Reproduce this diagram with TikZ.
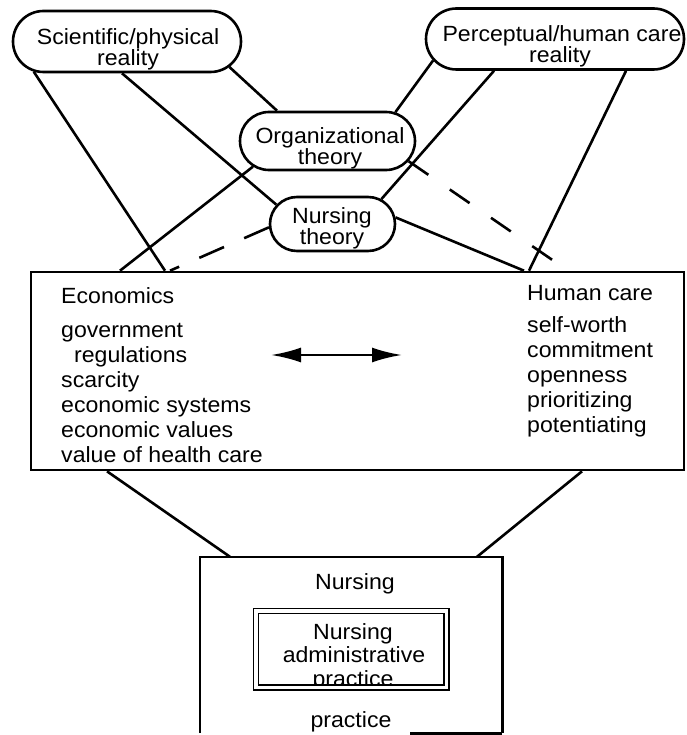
\documentclass[tikz,border=0pt]{standalone}
\usepackage{fontspec}
\setmainfont{Liberation Sans}[FakeStretch=1.05]
\usetikzlibrary{shapes.misc,arrows.meta}
\begin{document}
\begin{tikzpicture}[x=1pt,y=-1pt,
  every node/.style={font=\fontsize{22}{19}\selectfont},
  pill/.style={draw, rounded rectangle, line width=2.6pt, inner sep=0pt},
  boxed/.style={draw, rectangle, line width=2.6pt, inner sep=0pt},
  ln/.style={line width=2.6pt},
  dshA/.style={line width=2.6pt, dash pattern=on 24pt off 26pt},
  dshB/.style={line width=2.6pt, dash pattern=on 27pt off 22pt},
  txt/.style={anchor=base west, inner sep=0pt},
  ctxt/.style={anchor=base, inner sep=0pt}]
\useasboundingbox (0,0) rectangle (686,735);

% rounded boxes
\node[pill, minimum width=228pt, minimum height=61pt] (sci) at (127,41.5) {};
\node[pill, minimum width=258pt, minimum height=61pt] (per) at (555,39) {};
\node[pill, minimum width=175pt, minimum height=58pt] (org) at (327.5,141) {};
\node[pill, minimum width=125pt, minimum height=54pt] (nt) at (332.5,224) {};

\node[ctxt] (scia) at (128,45) {Scientific/physical};
\node[ctxt] (scib) at (128,66) {reality};
\node[ctxt] (pera) at (562,42) {Perceptual/human care};
\node[ctxt] (perb) at (560,63) {reality};
\node[ctxt] (orga) at (330,143.5) {Organizational};
\node[ctxt] (orgb) at (330,164.5) {theory};
\node[ctxt] (nta) at (332,223.5) {Nursing};
\node[ctxt] (ntb) at (332,244.5) {theory};

% economics / human care box
\node[boxed, minimum width=653pt, minimum height=198pt] (econ) at (357.5,371) {};
\node[txt] (e0) at (61,303) {Economics};
\node[txt] (e1) at (61,337) {government};
\node[txt] (e2) at (74,362) {regulations};
\node[txt] (e3) at (61,387) {scarcity};
\node[txt] (e4) at (61,412) {economic systems};
\node[txt] (e5) at (61,437) {economic values};
\node[txt] (e6) at (61,462) {value of health care};
\node[txt] (h0) at (527,300) {Human care};
\node[txt] (h1) at (527,332) {self-worth};
\node[txt] (h2) at (527,357) {commitment};
\node[txt] (h3) at (527,382) {openness};
\node[txt] (h4) at (527,407) {prioritizing};
\node[txt] (h5) at (527,432) {potentiating};
\coordinate (arrL) at (271,355);
\coordinate (arrR) at (402,355);
\draw[ln, {Latex[length=30pt,width=15pt]}-{Latex[length=30pt,width=15pt]}] (arrL) -- (arrR);

% nursing box
\node[minimum width=302pt, minimum height=176pt, inner sep=0pt] (nurs) at (351,645) {};
\draw[ln] (nurs.south west) -- (nurs.north west) -- (nurs.north east) -- (nurs.south east);
\draw[ln] ({410,0} |- nurs.south) -- (nurs.south east);
\node[ctxt] (nu0) at (355,589) {Nursing};
\node[ctxt] (nu9) at (351,727) {practice};

\node[minimum width=190.5pt, minimum height=76.5pt, inner sep=0pt] (adm) at (351.25,649.25) {};
\node[ctxt] (ad1) at (353,639) {Nursing};
\node[ctxt] (ad2) at (354,662) {administrative};
\node[ctxt] (ad3) at (353,686) {practice};
\draw[line width=1.6pt, double distance=3.4pt, double=white] (adm.north west) rectangle (adm.south east);

% connectors from the top
\draw[ln] (sci.198) -- ({165,0} |- econ.north);
\draw[ln] ({122,0} |- sci.south) -- (nt.161);
\draw[ln] (sci.-14) -- ({277,0} |- org.north);
\draw[ln] (per.190) -- (org.23);
\draw[ln] ({494,0} |- per.south) -- (nt.27);
\draw[ln] ({626,0} |- per.south) -- ({529,0} |- econ.north);
\draw[ln] (org.199) -- ({120,0} |- econ.north);
\draw[dshA, shorten >=10pt] (org.-14) -- ({568,0} |- econ.north);
\draw[dshB] (nt.183) -- ({170,0} |- econ.north);
\draw[ln] (nt.6) -- ({524,0} |- econ.north);

% connectors to nursing
\draw[ln] ({107,0} |- econ.south) -- ({230,0} |- nurs.north);
\draw[ln] ({582,0} |- econ.south) -- ({477,0} |- nurs.north);
\end{tikzpicture}
\end{document}
